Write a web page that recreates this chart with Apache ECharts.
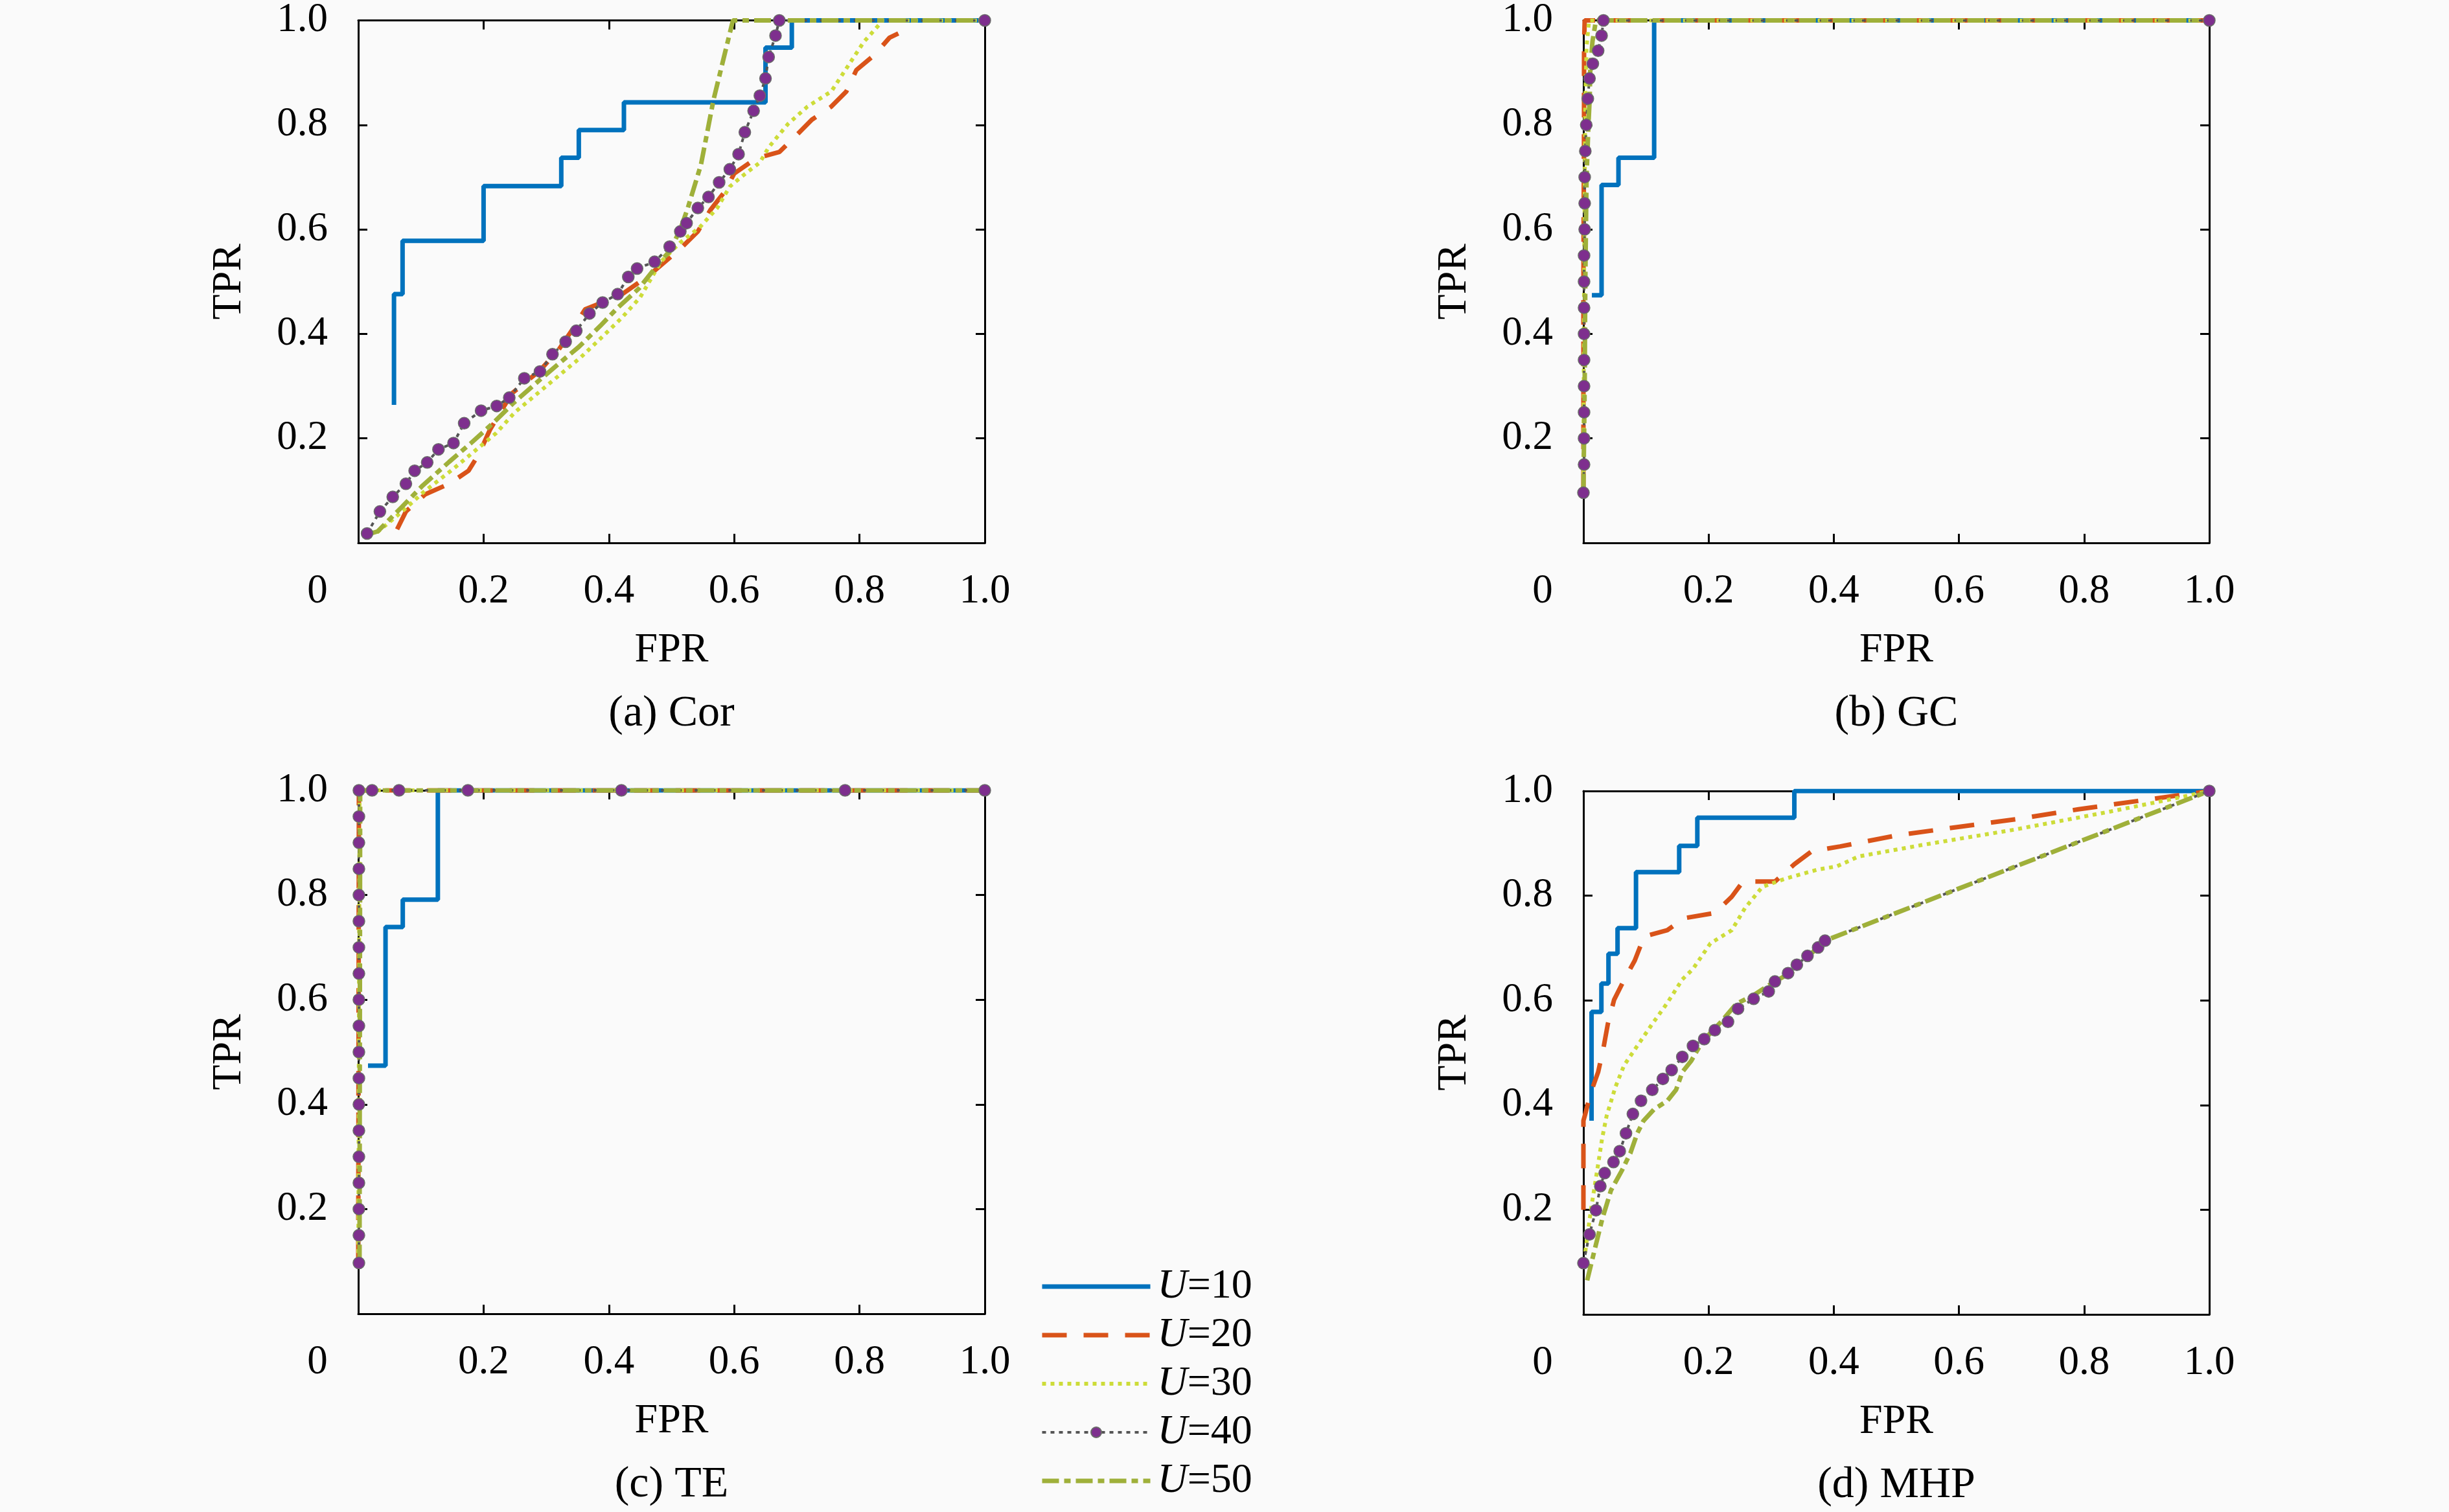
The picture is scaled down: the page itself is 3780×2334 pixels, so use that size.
<!DOCTYPE html>
<html><head><meta charset="utf-8">
<script src="https://cdn.jsdelivr.net/npm/echarts@6/dist/echarts.min.js"></script>
<style>html,body{margin:0;padding:0;background:#fafafa}#c{width:3780px;height:2334px}</style>
</head><body><div id="c"></div><script>
const panelNames = ['(a) Cor', '(b) GC', '(c) TE', '(d) MHP'];
const seriesNames = ['U=10', 'U=20', 'U=30', 'U=40', 'U=50'];
const tickValues = [0, 0.2, 0.4, 0.6, 0.8, 1.0];
const tickLabels = ['0', '0.2', '0.4', '0.6', '0.8', '1.0'];

// (a) Cor
const corU10 = [[0.057,0.264],[0.057,0.476],[0.0707,0.578],[0.2,0.683],[0.324,0.737],[0.352,0.79],[0.424,0.843],[0.65,0.948],[0.692,1.0],[1.0,1.0]];
const corU20 = [[0.062,0.026],[0.076,0.06],[0.107,0.093],[0.145,0.113],[0.176,0.138],[0.193,0.171],[0.21,0.216],[0.245,0.286],[0.29,0.33],[0.32,0.37],[0.345,0.414],[0.362,0.447],[0.42,0.475],[0.465,0.513],[0.514,0.563],[0.542,0.596],[0.562,0.637],[0.586,0.674],[0.6,0.707],[0.635,0.736],[0.672,0.748],[0.7,0.781],[0.724,0.81],[0.755,0.835],[0.779,0.864],[0.795,0.905],[0.824,0.934],[0.848,0.967],[0.862,0.975]];
const corU30 = [[0.03,0.02],[0.07,0.06],[0.105,0.098],[0.15,0.14],[0.185,0.175],[0.22,0.21],[0.25,0.25],[0.29,0.29],[0.32,0.32],[0.355,0.355],[0.39,0.395],[0.42,0.43],[0.45,0.47],[0.483,0.538],[0.514,0.575],[0.545,0.604],[0.573,0.641],[0.593,0.682],[0.614,0.703],[0.641,0.728],[0.655,0.757],[0.686,0.802],[0.717,0.835],[0.755,0.864],[0.773,0.897],[0.807,0.959],[0.833,0.994],[0.835,1.0],[1.0,1.0]];
const corU40 = [[0.014,0.018],[0.0345,0.06],[0.055,0.088],[0.076,0.113],[0.09,0.138],[0.11,0.154],[0.128,0.179],[0.152,0.191],[0.169,0.229],[0.196,0.253],[0.221,0.262],[0.241,0.278],[0.265,0.315],[0.29,0.328],[0.31,0.361],[0.331,0.385],[0.348,0.406],[0.369,0.439],[0.39,0.46],[0.414,0.476],[0.431,0.509],[0.445,0.525],[0.473,0.538],[0.497,0.567],[0.514,0.596],[0.524,0.612],[0.542,0.641],[0.559,0.662],[0.576,0.69],[0.593,0.715],[0.607,0.744],[0.617,0.786],[0.631,0.827],[0.641,0.856],[0.65,0.889],[0.655,0.93],[0.666,0.971],[0.672,1.0],[1.0,1.0]];
const corU50 = [[0.02,0.018],[0.031,0.022],[0.069,0.068],[0.103,0.11],[0.145,0.155],[0.179,0.19],[0.214,0.228],[0.248,0.268],[0.283,0.305],[0.317,0.34],[0.352,0.375],[0.386,0.415],[0.414,0.45],[0.448,0.487],[0.483,0.54],[0.497,0.558],[0.514,0.6],[0.526,0.641],[0.547,0.724],[0.567,0.848],[0.598,1.0],[1.0,1.0]];

// (b) GC
const gcU10 = [[0.0135,0.474],[0.029,0.685],[0.056,0.737],[0.113,1.0],[1.0,1.0]];
const gcU20 = [[0,0.1],[0,0.5],[0.001,0.8],[0.001,0.95],[0.002,1.0],[1.0,1.0]];
const gcU30 = [[0,0.1],[0.001,0.5],[0.003,0.85],[0.005,0.95],[0.009,1.0],[1.0,1.0]];
const gcU40 = [[0,0.096],[0.001,0.15],[0.001,0.2],[0.001,0.25],[0.001,0.3],[0.001,0.35],[0.001,0.4],[0.001,0.45],[0.001,0.5],[0.001,0.55],[0.002,0.6],[0.002,0.65],[0.002,0.7],[0.003,0.75],[0.0045,0.8],[0.007,0.85],[0.0097,0.889],[0.015,0.917],[0.0235,0.942],[0.029,0.971],[0.032,1.0],[1.0,1.0]];
const gcU50 = [[0,0.1],[0.002,0.3],[0.003,0.5],[0.005,0.7],[0.008,0.8],[0.01,0.85],[0.011,0.909],[0.0145,0.96],[0.02,1.0],[1.0,1.0]];

// (c) TE
const teU10 = [[0.0155,0.474],[0.0435,0.739],[0.071,0.791],[0.127,1.0],[1.0,1.0]];
const teU20 = [[0,0.1],[0.001,1.0],[1.0,1.0]];
const teU30 = [[0,0.1],[0.002,1.0],[1.0,1.0]];
const teU40 = [[0.001,0.097],[0.001,0.15],[0.001,0.2],[0.001,0.25],[0.001,0.3],[0.001,0.35],[0.001,0.4],[0.001,0.45],[0.001,0.5],[0.001,0.55],[0.001,0.6],[0.001,0.65],[0.001,0.7],[0.001,0.75],[0.001,0.8],[0.001,0.85],[0.001,0.9],[0.001,0.95],[0.001,1.0],[0.022,1.0],[0.065,1.0],[0.175,1.0],[0.42,1.0],[0.777,1.0],[1.0,1.0]];
const teU50 = [[0.002,0.1],[0.003,1.0],[1.0,1.0]];

// (d) MHP
const mhpU10 = [[0.013,0.37],[0.013,0.578],[0.0287,0.632],[0.04,0.689],[0.0545,0.738],[0.084,0.845],[0.153,0.895],[0.182,0.949],[0.337,1.0],[1.0,1.0]];
const mhpU20 = [[0,0.2],[0,0.37],[0.003,0.383],[0.011,0.421],[0.0235,0.463],[0.032,0.509],[0.039,0.555],[0.049,0.601],[0.065,0.639],[0.082,0.676],[0.097,0.722],[0.134,0.734],[0.161,0.757],[0.21,0.767],[0.237,0.798],[0.255,0.827],[0.306,0.827],[0.337,0.86],[0.365,0.885],[0.41,0.894],[0.5,0.915],[0.603,0.932],[0.697,0.947],[0.791,0.965],[0.886,0.981],[1.0,1.0]];
const mhpU30 = [[0.003,0.12],[0.012,0.2],[0.0235,0.287],[0.03,0.337],[0.037,0.379],[0.051,0.434],[0.065,0.476],[0.086,0.513],[0.11,0.555],[0.134,0.595],[0.158,0.64],[0.175,0.66],[0.203,0.709],[0.237,0.734],[0.258,0.776],[0.286,0.817],[0.324,0.833],[0.375,0.85],[0.405,0.856],[0.44,0.875],[0.542,0.897],[0.688,0.926],[0.843,0.961],[0.946,0.986],[1.0,1.0]];
const mhpU40 = [[0,0.098],[0.0097,0.153],[0.02,0.199],[0.027,0.245],[0.034,0.27],[0.048,0.291],[0.058,0.312],[0.068,0.346],[0.079,0.383],[0.092,0.408],[0.11,0.429],[0.127,0.45],[0.141,0.467],[0.158,0.492],[0.175,0.513],[0.193,0.526],[0.21,0.543],[0.231,0.559],[0.247,0.584],[0.272,0.603],[0.296,0.617],[0.306,0.636],[0.327,0.652],[0.341,0.668],[0.358,0.685],[0.375,0.701],[0.386,0.714],[1.0,1.0]];
const mhpU50 = [[0.006,0.065],[0.017,0.119],[0.03,0.182],[0.044,0.237],[0.061,0.274],[0.075,0.308],[0.086,0.346],[0.096,0.37],[0.113,0.392],[0.134,0.408],[0.148,0.429],[0.158,0.463],[0.172,0.484],[0.186,0.513],[0.203,0.538],[0.22,0.559],[0.244,0.593],[0.272,0.61],[0.299,0.631],[0.334,0.655],[0.36,0.685],[0.386,0.714],[1.0,1.0]];

const panelData = [
  [corU10, corU20, corU30, corU40, corU50],
  [gcU10, gcU20, gcU30, gcU40, gcU50],
  [teU10, teU20, teU30, teU40, teU50],
  [mhpU10, mhpU20, mhpU30, mhpU40, mhpU50]
];

const FONT = 'Liberation Serif, serif';
const TICK_FS = 63, NAME_FS = 64, CAP_FS = 68, LEG_FS = 64;
const grids = [
  {left: 553, top: 30, width: 967, height: 808},
  {left: 2444, top: 30, width: 966, height: 808},
  {left: 553, top: 1220, width: 967, height: 808},
  {left: 2444, top: 1221, width: 966, height: 808}
];

const styles = [
  {lineStyle: {color: '#0072BD', width: 7, type: 'solid'}, step: 'end'},
  {lineStyle: {color: '#D95319', width: 7, type: [38, 26]}},
  {lineStyle: {color: '#cddc39', width: 6, type: [6, 7]}},
  {lineStyle: {color: '#555555', width: 4, type: [6, 7]}, marker: true},
  {lineStyle: {color: '#9fb03a', width: 7, type: [26, 8, 10, 8]}}
];

function labelFor(v) {
  const i = tickValues.findIndex(t => Math.abs(t - v) < 1e-9);
  return i >= 0 ? tickLabels[i] : '';
}

const axisCommon = {
  type: 'value', min: 0, max: 1, interval: 0.2,
  axisLine: {onZero: false, lineStyle: {color: '#000', width: 3}},
  axisTick: {inside: true, length: 14, lineStyle: {color: '#000', width: 3}},
  splitLine: {show: false}
};

const xAxes = [], yAxes = [], series = [], graphics = [];
grids.forEach((g, gi) => {
  xAxes.push(Object.assign({}, axisCommon, {
    gridIndex: gi, position: 'bottom',
    name: 'FPR', nameLocation: 'middle', nameGap: 134,
    nameTextStyle: {fontFamily: FONT, fontSize: NAME_FS, color: '#000'},
    axisLabel: {
      margin: 44, fontFamily: FONT, fontSize: TICK_FS, color: '#000',
      formatter: v => v === 0 ? '{o|' + labelFor(v) + '}' : labelFor(v),
      rich: {o: {padding: [0, 126, 0, 0], fontFamily: FONT, fontSize: TICK_FS, color: '#000'}}
    }
  }));
  xAxes.push(Object.assign({}, axisCommon, {gridIndex: gi, position: 'top', axisLabel: {show: false}}));
  yAxes.push(Object.assign({}, axisCommon, {
    gridIndex: gi, position: 'left',
    name: 'TPR', nameLocation: 'middle', nameGap: 167,
    nameTextStyle: {fontFamily: FONT, fontSize: NAME_FS, color: '#000'},
    axisLabel: {
      margin: 47, fontFamily: FONT, fontSize: TICK_FS, color: '#000',
      formatter: v => v === 0 ? '' : labelFor(v)
    }
  }));
  yAxes.push(Object.assign({}, axisCommon, {gridIndex: gi, position: 'right', axisLabel: {show: false}}));

  panelData[gi].forEach((d, si) => {
    const st = styles[si];
    const s = {
      name: seriesNames[si], type: 'line', xAxisIndex: gi * 2, yAxisIndex: gi * 2,
      data: d, lineStyle: st.lineStyle, animation: false, silent: true,
      itemStyle: {color: st.lineStyle.color}
    };
    if (st.step) s.step = st.step;
    if (st.marker) {
      s.symbol = 'circle'; s.symbolSize = 18; s.showSymbol = true;
      s.itemStyle = {color: '#7E2F8E', borderColor: '#6a6a6a', borderWidth: 1.5};
    } else {
      s.symbol = 'none'; s.showSymbol = false;
    }
    series.push(s);
  });

  graphics.push({
    type: 'text', x: g.left + g.width / 2, y: g.top + g.height + 264,
    style: {text: panelNames[gi], fill: '#000', fontFamily: FONT, fontSize: CAP_FS,
      textAlign: 'center', textVerticalAlign: 'middle', align: 'center', verticalAlign: 'middle'}
  });
});

const legendData = seriesNames.map((n, i) => {
  const item = {name: n, lineStyle: {width: styles[i].lineStyle.width}};
  if (!styles[i].marker) item.itemStyle = {opacity: 0};
  return item;
});

const chart = echarts.init(document.getElementById('c'), null, {renderer: 'canvas'});
chart.setOption({
  backgroundColor: '#fafafa',
  animation: false,
  grid: grids.map(g => Object.assign({containLabel: false}, g)),
  xAxis: xAxes,
  yAxis: yAxes,
  series: series,
  graphic: graphics,
  legend: {
    orient: 'vertical', left: 1600, top: 1949,
    itemWidth: 167, itemHeight: 20, itemGap: 11, selectedMode: false,
    data: legendData,
    formatter: n => '{i|U}=' + n.slice(2),
    textStyle: {fontFamily: FONT, fontSize: LEG_FS, color: '#000', lineHeight: LEG_FS,
      padding: [0, 0, 0, 6],
      rich: {i: {fontStyle: 'italic', fontFamily: FONT, fontSize: LEG_FS, color: '#000', lineHeight: LEG_FS}}}
  }
});
</script></body></html>
